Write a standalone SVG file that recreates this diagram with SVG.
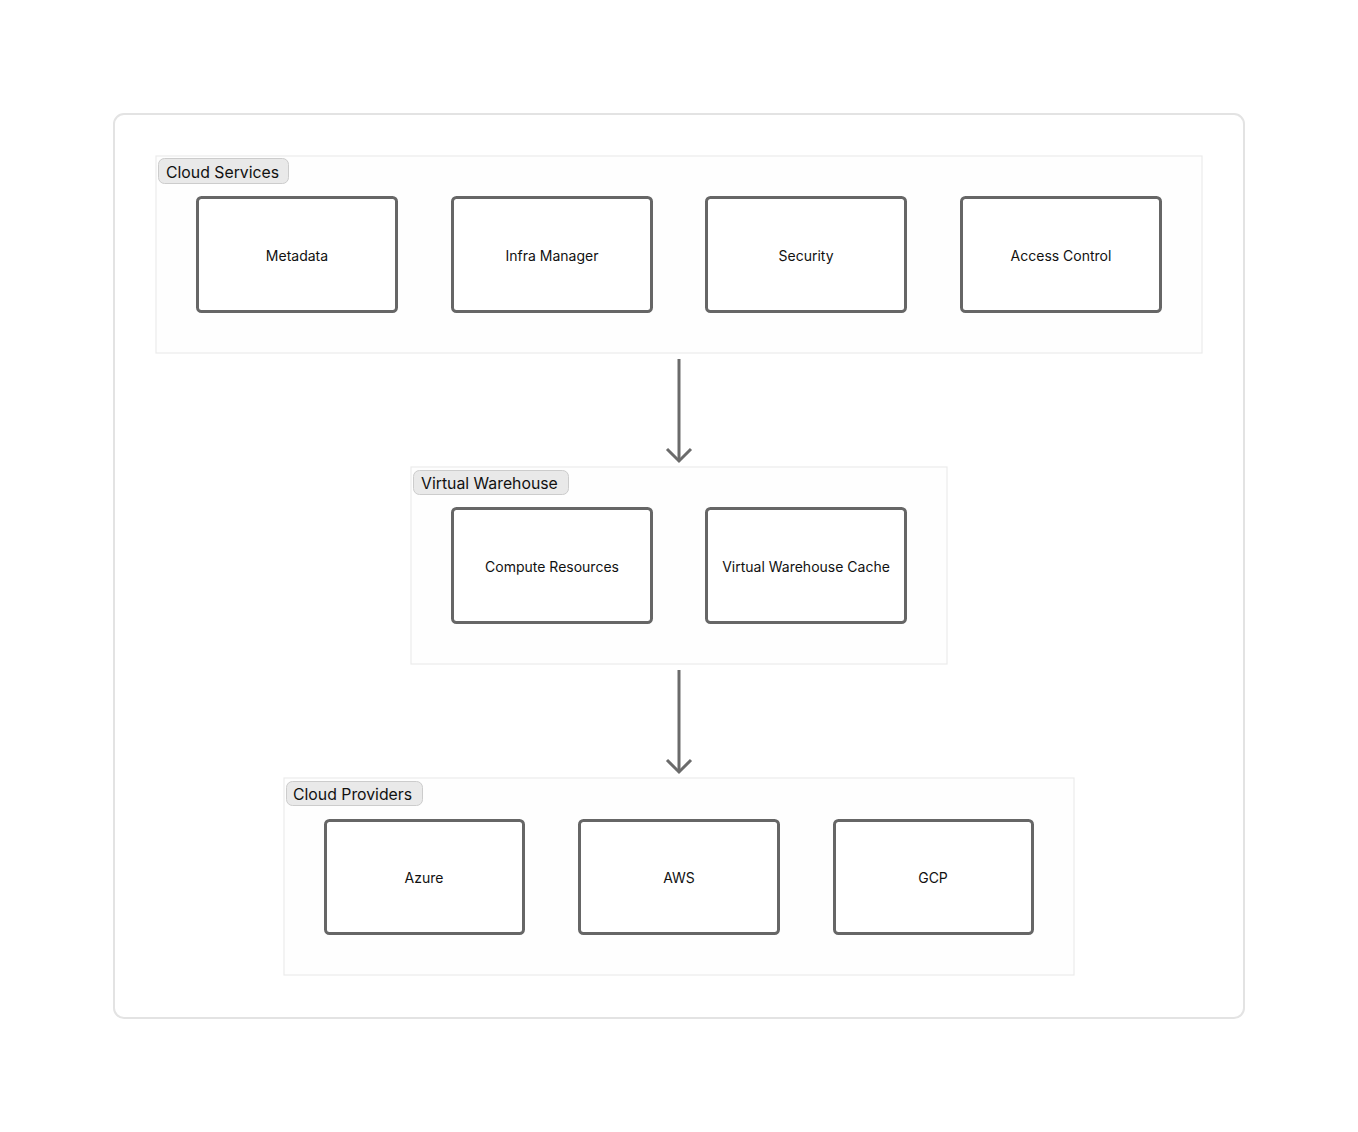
<svg xmlns="http://www.w3.org/2000/svg" width="1358" height="1132" viewBox="0 0 1358 1132">
<style>
.frame{fill:#fff;stroke:#e3e3e3;stroke-width:2}
.grp{fill:#fefefe;stroke:#ebebeb;stroke-width:1.2}
.pill{fill:#e9e9e9;stroke:#cccccc;stroke-width:1}
.pt{font-family:Inter,"Liberation Sans",sans-serif;font-size:15.8px;fill:#111}
.node{fill:#fff;stroke:#666;stroke-width:3}
.nt{font-family:Inter,"Liberation Sans",sans-serif;font-size:14px;fill:#111;text-anchor:middle;dominant-baseline:central}
.edge{stroke:#6b6b6b;stroke-width:3;fill:none}
</style>
<defs>
<marker id="arr" viewBox="0 0 24 28" refX="20" refY="14" markerWidth="24" markerHeight="28" markerUnits="userSpaceOnUse" orient="auto" overflow="visible">
<path d="M8 2 L20 14 L8 26" fill="none" stroke="#6b6b6b" stroke-width="3"/>
</marker>
</defs>
<rect width="1358" height="1132" fill="#fff"/>
<rect class="frame" x="114" y="114" width="1130" height="904" rx="10"/>

<g id="cloud-services">
<rect class="grp" x="156" y="156" width="1046" height="197"/>
<rect class="pill" x="158.5" y="158.5" width="130" height="25" rx="6"/>
<text class="pt" x="166" y="178">Cloud Services</text>
</g>
<g id="metadata"><rect class="node" x="197.5" y="197.5" width="199" height="114" rx="4"/><text class="nt" x="297" y="255">Metadata</text></g>
<g id="infra-manager"><rect class="node" x="452.5" y="197.5" width="199" height="114" rx="4"/><text class="nt" x="552" y="255">Infra Manager</text></g>
<g id="security"><rect class="node" x="706.5" y="197.5" width="199" height="114" rx="4"/><text class="nt" x="806" y="255">Security</text></g>
<g id="access-control"><rect class="node" x="961.5" y="197.5" width="199" height="114" rx="4"/><text class="nt" x="1061" y="255">Access Control</text></g>

<g id="virtual-warehouse">
<rect class="grp" x="411" y="467" width="536" height="197"/>
<rect class="pill" x="413.5" y="470.5" width="155" height="24" rx="6"/>
<text class="pt" x="421" y="489">Virtual Warehouse</text>
</g>
<g id="compute-resources"><rect class="node" x="452.5" y="508.5" width="199" height="114" rx="4"/><text class="nt" x="552" y="566">Compute Resources</text></g>
<g id="vw-cache"><rect class="node" x="706.5" y="508.5" width="199" height="114" rx="4"/><text class="nt" x="806" y="566">Virtual Warehouse Cache</text></g>

<g id="cloud-providers">
<rect class="grp" x="284" y="778" width="790" height="197"/>
<rect class="pill" x="286.5" y="781.5" width="136" height="24" rx="6"/>
<text class="pt" x="293" y="800">Cloud Providers</text>
</g>
<g id="azure"><rect class="node" x="325.5" y="820.5" width="198" height="113" rx="4"/><text class="nt" x="424" y="877">Azure</text></g>
<g id="aws"><rect class="node" x="579.5" y="820.5" width="199" height="113" rx="4"/><text class="nt" x="679" y="877">AWS</text></g>
<g id="gcp"><rect class="node" x="834.5" y="820.5" width="198" height="113" rx="4"/><text class="nt" x="933" y="877">GCP</text></g>

<g id="connectors">
<line class="edge" x1="679" y1="359" x2="679" y2="461" marker-end="url(#arr)"/>
<line class="edge" x1="679" y1="670" x2="679" y2="772" marker-end="url(#arr)"/>
</g>
</svg>
